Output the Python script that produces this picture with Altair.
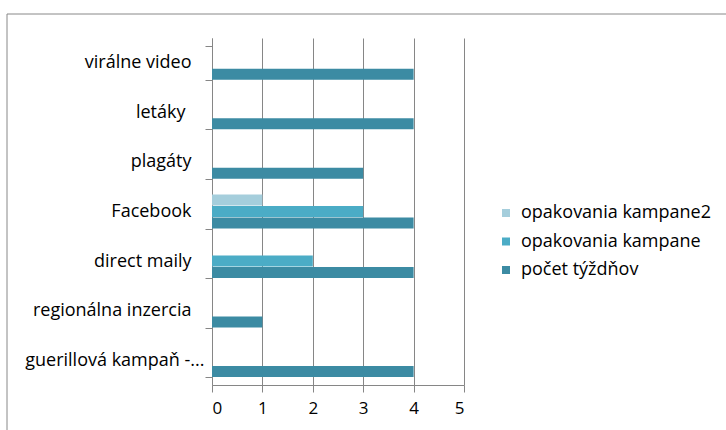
import altair as alt
import pandas as pd

categories = ["virálne video", "letáky\u00a0", "plagáty", "Facebook", "direct maily",
              "regionálna inzercia", "guerillová kampaň -..."]
series = ["opakovania kampane2", "opakovania kampane", "počet týždňov"]
kampane2 = [0, 0, 0, 1, 0, 0, 0]
kampane = [0, 0, 0, 3, 2, 0, 0]
tyzdne = [4, 4, 3, 4, 4, 1, 4]
colors = ["#A5CEDC", "#4BACC6", "#3C8BA3"]
x_ticks = [0, 1, 2, 3, 4, 5]

rows = []
for i, c in enumerate(categories):
    for s, vals in zip(series, [kampane2, kampane, tyzdne]):
        rows.append({"kat": c, "ser": s, "val": vals[i]})
df = pd.DataFrame(rows)

FONT = "Open Sans"
long_label = categories[-1]
short_label = categories[1]

pad_expr = (f"datum.value === '{long_label}' ? 1 : "
            f"(datum.value === '{short_label}' ? 20 : 14)")

bars = alt.Chart(df).mark_bar(size=11).encode(
    y=alt.Y("kat:N", sort=categories,
            scale=alt.Scale(paddingInner=0.31, paddingOuter=0.155),
            axis=alt.Axis(title=None, tickBand="extent", tickSize=7,
                          tickColor="#868686", domainColor="#868686",
                          labelFontSize=18, labelFont=FONT, labelColor="#000000",
                          labelPadding={"condition": [
                              {"test": f"datum.value === '{long_label}'", "value": 1},
                              {"test": f"datum.value === '{short_label}'", "value": 20}],
                              "value": 14},
                          labelLimit=240, grid=False)),
    yOffset=alt.YOffset("ser:N", sort=series),
    x=alt.X("val:Q", scale=alt.Scale(domain=[0, 5], nice=False),
            axis=alt.Axis(title=None, values=x_ticks, tickSize=7,
                          tickColor="#868686", domainColor="#868686",
                          gridColor="#868686", grid=True,
                          labelFontSize=17, labelFont=FONT, labelColor="#000000",
                          labelPadding=8, format="d")),
    color=alt.Color("ser:N", sort=series,
                    scale=alt.Scale(domain=series, range=colors),
                    legend=alt.Legend(title=None, orient="none", legendX=285, legendY=166,
                                      symbolType="square", symbolSize=64,
                                      symbolStrokeWidth=0,
                                      labelFontSize=18, labelFont=FONT,
                                      labelColor="#000000", rowPadding=10.5,
                                      labelOffset=6, labelLimit=250)),
)

frame = alt.Chart(pd.DataFrame({"a": [0]})).mark_rect(
    fillOpacity=0, stroke="#888888", strokeWidth=1
).encode(
    x=alt.value(-205), x2=alt.value(530), y=alt.value(-24), y2=alt.value(402)
)

chart = alt.layer(bars, frame).properties(
    width=252, height=347,
    autosize=alt.AutoSizeParams(type="none"),
    padding={"left": 212, "top": 38, "right": 262, "bottom": 45},
).configure_view(stroke=None)

chart.save("out.html", embed_options={"renderer": "svg", "actions": False})
